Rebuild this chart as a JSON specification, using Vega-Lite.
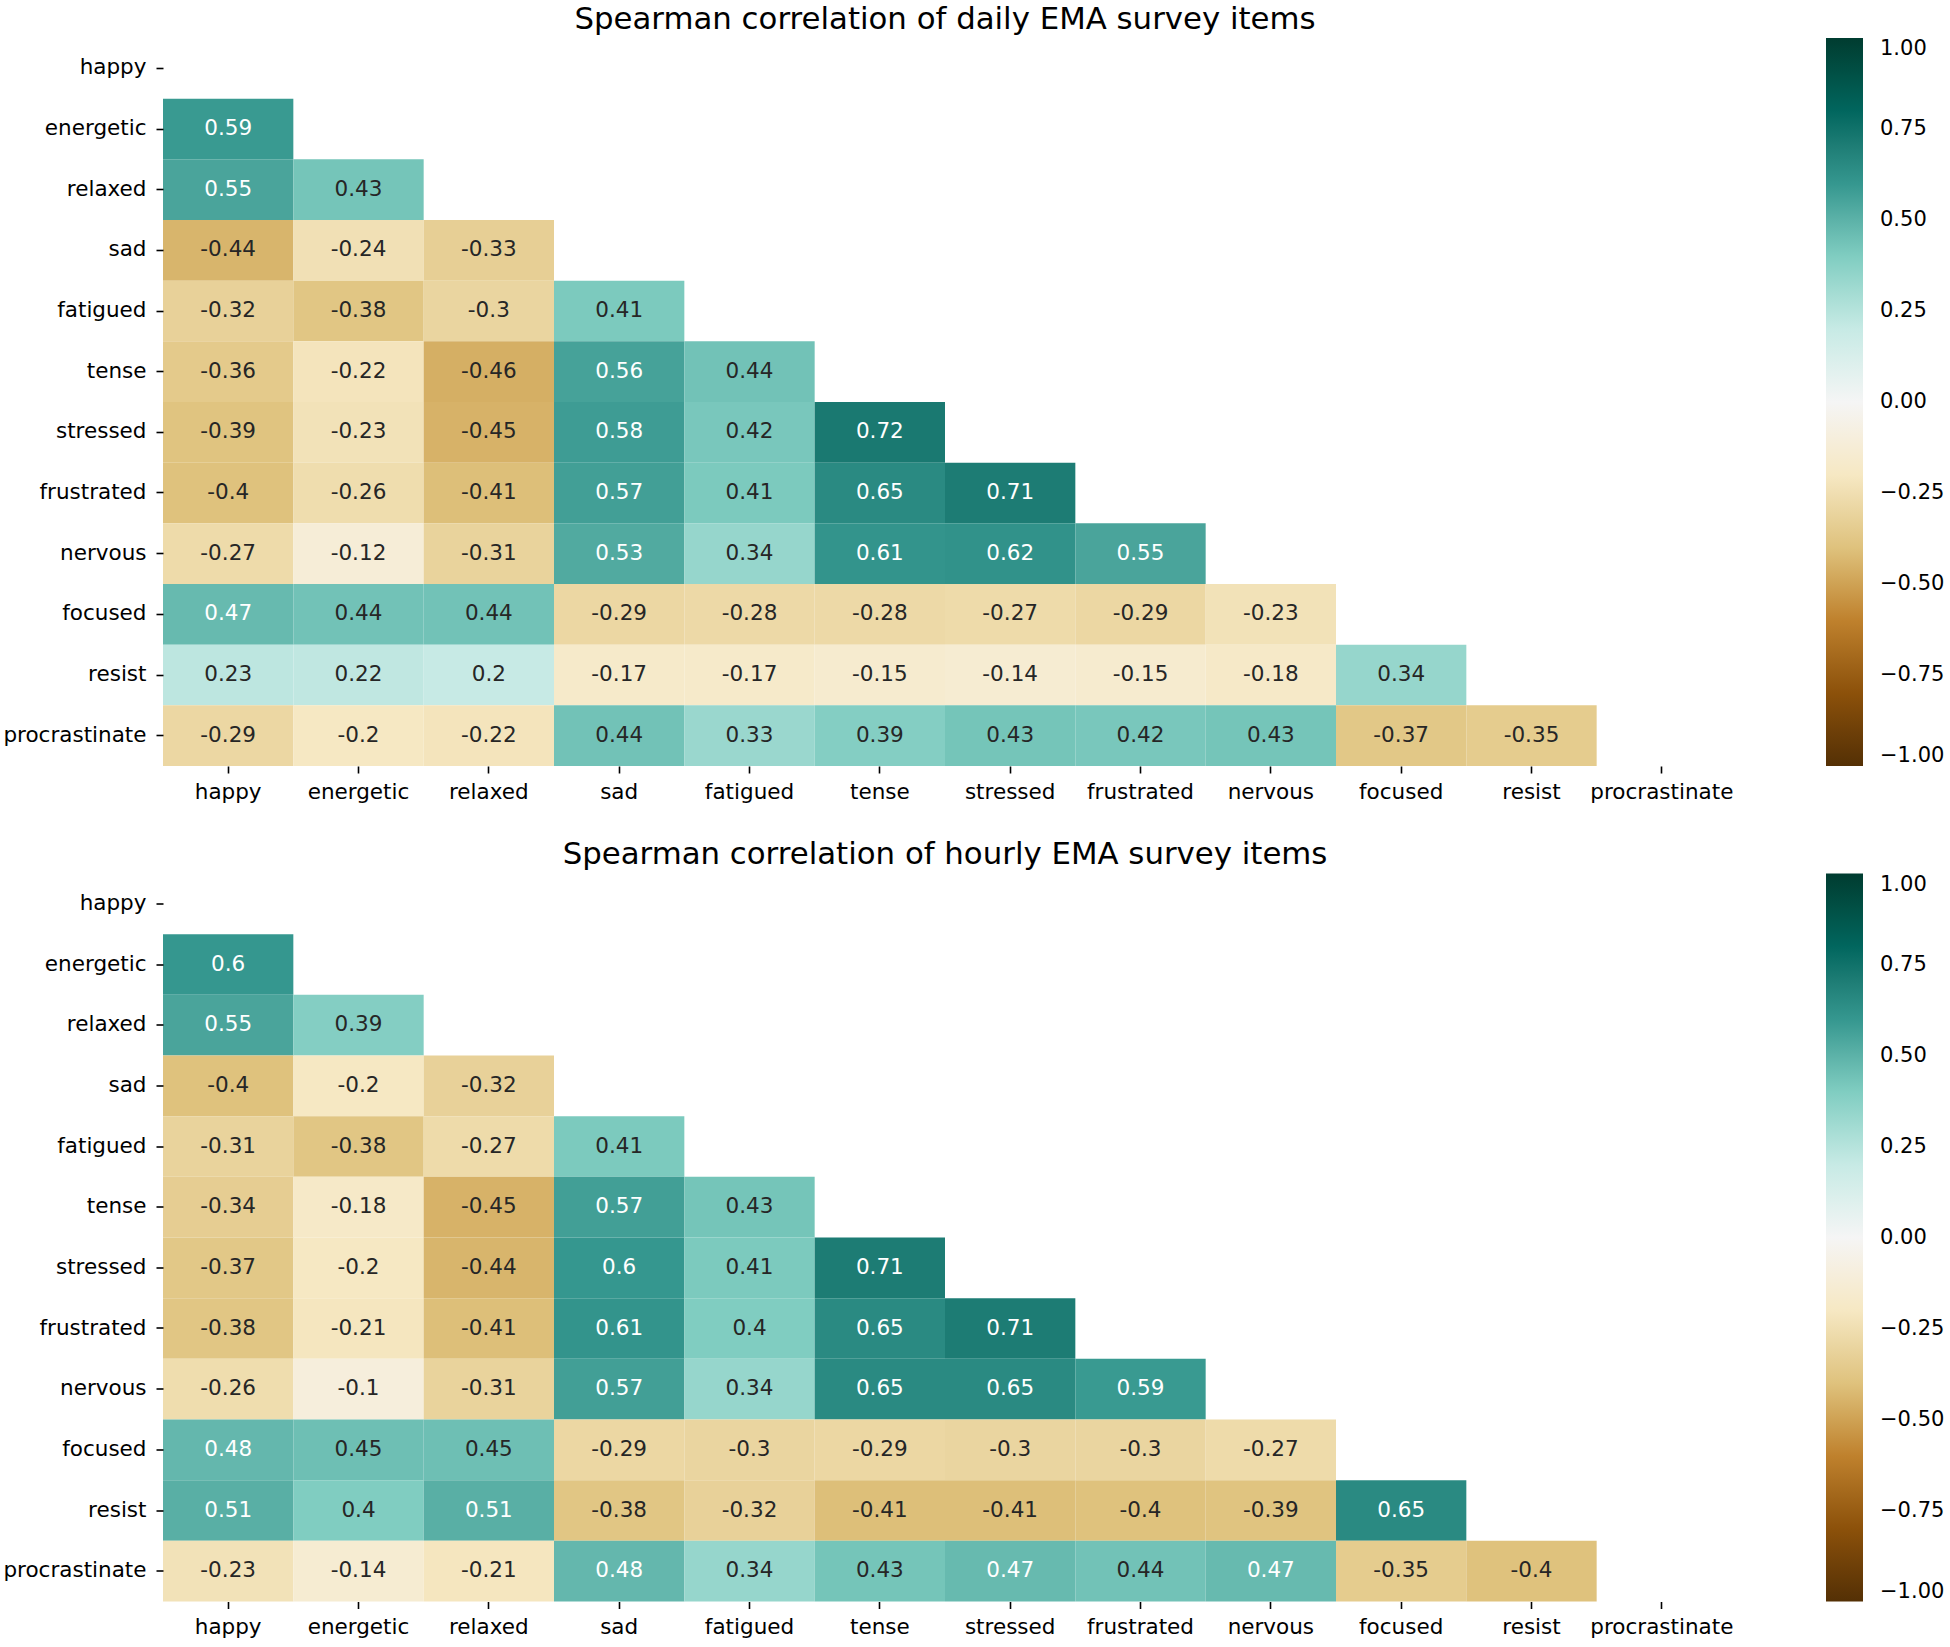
{
  "$schema": "https://vega.github.io/schema/vega-lite/v6.json",
  "padding": {"left": 2, "top": 3, "right": 0, "bottom": 0},
  "config": {
    "font": "DejaVu Sans",
    "view": {"stroke": null},
    "axis": {"labelFont": "DejaVu Sans", "labelFontSize": 21.5, "labelColor": "#000000", "tickColor": "#000000", "tickSize": 7, "tickWidth": 1.6, "domain": false, "grid": false, "title": null, "labelPadding": 10},
    "legend": {"labelFont": "DejaVu Sans", "labelFontSize": 21, "labelColor": "#000000"},
    "title": {"font": "DejaVu Sans", "fontSize": 30.8, "fontWeight": "normal", "color": "#000000", "anchor": "middle", "offset": 2.5}
  },
  "datasets": {
    "daily": [
      {"row": "energetic", "col": "happy", "value": 0.59},
      {"row": "relaxed", "col": "happy", "value": 0.55},
      {"row": "relaxed", "col": "energetic", "value": 0.43},
      {"row": "sad", "col": "happy", "value": -0.44},
      {"row": "sad", "col": "energetic", "value": -0.24},
      {"row": "sad", "col": "relaxed", "value": -0.33},
      {"row": "fatigued", "col": "happy", "value": -0.32},
      {"row": "fatigued", "col": "energetic", "value": -0.38},
      {"row": "fatigued", "col": "relaxed", "value": -0.3},
      {"row": "fatigued", "col": "sad", "value": 0.41},
      {"row": "tense", "col": "happy", "value": -0.36},
      {"row": "tense", "col": "energetic", "value": -0.22},
      {"row": "tense", "col": "relaxed", "value": -0.46},
      {"row": "tense", "col": "sad", "value": 0.56},
      {"row": "tense", "col": "fatigued", "value": 0.44},
      {"row": "stressed", "col": "happy", "value": -0.39},
      {"row": "stressed", "col": "energetic", "value": -0.23},
      {"row": "stressed", "col": "relaxed", "value": -0.45},
      {"row": "stressed", "col": "sad", "value": 0.58},
      {"row": "stressed", "col": "fatigued", "value": 0.42},
      {"row": "stressed", "col": "tense", "value": 0.72},
      {"row": "frustrated", "col": "happy", "value": -0.4},
      {"row": "frustrated", "col": "energetic", "value": -0.26},
      {"row": "frustrated", "col": "relaxed", "value": -0.41},
      {"row": "frustrated", "col": "sad", "value": 0.57},
      {"row": "frustrated", "col": "fatigued", "value": 0.41},
      {"row": "frustrated", "col": "tense", "value": 0.65},
      {"row": "frustrated", "col": "stressed", "value": 0.71},
      {"row": "nervous", "col": "happy", "value": -0.27},
      {"row": "nervous", "col": "energetic", "value": -0.12},
      {"row": "nervous", "col": "relaxed", "value": -0.31},
      {"row": "nervous", "col": "sad", "value": 0.53},
      {"row": "nervous", "col": "fatigued", "value": 0.34},
      {"row": "nervous", "col": "tense", "value": 0.61},
      {"row": "nervous", "col": "stressed", "value": 0.62},
      {"row": "nervous", "col": "frustrated", "value": 0.55},
      {"row": "focused", "col": "happy", "value": 0.47},
      {"row": "focused", "col": "energetic", "value": 0.44},
      {"row": "focused", "col": "relaxed", "value": 0.44},
      {"row": "focused", "col": "sad", "value": -0.29},
      {"row": "focused", "col": "fatigued", "value": -0.28},
      {"row": "focused", "col": "tense", "value": -0.28},
      {"row": "focused", "col": "stressed", "value": -0.27},
      {"row": "focused", "col": "frustrated", "value": -0.29},
      {"row": "focused", "col": "nervous", "value": -0.23},
      {"row": "resist", "col": "happy", "value": 0.23},
      {"row": "resist", "col": "energetic", "value": 0.22},
      {"row": "resist", "col": "relaxed", "value": 0.2},
      {"row": "resist", "col": "sad", "value": -0.17},
      {"row": "resist", "col": "fatigued", "value": -0.17},
      {"row": "resist", "col": "tense", "value": -0.15},
      {"row": "resist", "col": "stressed", "value": -0.14},
      {"row": "resist", "col": "frustrated", "value": -0.15},
      {"row": "resist", "col": "nervous", "value": -0.18},
      {"row": "resist", "col": "focused", "value": 0.34},
      {"row": "procrastinate", "col": "happy", "value": -0.29},
      {"row": "procrastinate", "col": "energetic", "value": -0.2},
      {"row": "procrastinate", "col": "relaxed", "value": -0.22},
      {"row": "procrastinate", "col": "sad", "value": 0.44},
      {"row": "procrastinate", "col": "fatigued", "value": 0.33},
      {"row": "procrastinate", "col": "tense", "value": 0.39},
      {"row": "procrastinate", "col": "stressed", "value": 0.43},
      {"row": "procrastinate", "col": "frustrated", "value": 0.42},
      {"row": "procrastinate", "col": "nervous", "value": 0.43},
      {"row": "procrastinate", "col": "focused", "value": -0.37},
      {"row": "procrastinate", "col": "resist", "value": -0.35}
    ],
    "hourly": [
      {"row": "energetic", "col": "happy", "value": 0.6},
      {"row": "relaxed", "col": "happy", "value": 0.55},
      {"row": "relaxed", "col": "energetic", "value": 0.39},
      {"row": "sad", "col": "happy", "value": -0.4},
      {"row": "sad", "col": "energetic", "value": -0.2},
      {"row": "sad", "col": "relaxed", "value": -0.32},
      {"row": "fatigued", "col": "happy", "value": -0.31},
      {"row": "fatigued", "col": "energetic", "value": -0.38},
      {"row": "fatigued", "col": "relaxed", "value": -0.27},
      {"row": "fatigued", "col": "sad", "value": 0.41},
      {"row": "tense", "col": "happy", "value": -0.34},
      {"row": "tense", "col": "energetic", "value": -0.18},
      {"row": "tense", "col": "relaxed", "value": -0.45},
      {"row": "tense", "col": "sad", "value": 0.57},
      {"row": "tense", "col": "fatigued", "value": 0.43},
      {"row": "stressed", "col": "happy", "value": -0.37},
      {"row": "stressed", "col": "energetic", "value": -0.2},
      {"row": "stressed", "col": "relaxed", "value": -0.44},
      {"row": "stressed", "col": "sad", "value": 0.6},
      {"row": "stressed", "col": "fatigued", "value": 0.41},
      {"row": "stressed", "col": "tense", "value": 0.71},
      {"row": "frustrated", "col": "happy", "value": -0.38},
      {"row": "frustrated", "col": "energetic", "value": -0.21},
      {"row": "frustrated", "col": "relaxed", "value": -0.41},
      {"row": "frustrated", "col": "sad", "value": 0.61},
      {"row": "frustrated", "col": "fatigued", "value": 0.4},
      {"row": "frustrated", "col": "tense", "value": 0.65},
      {"row": "frustrated", "col": "stressed", "value": 0.71},
      {"row": "nervous", "col": "happy", "value": -0.26},
      {"row": "nervous", "col": "energetic", "value": -0.1},
      {"row": "nervous", "col": "relaxed", "value": -0.31},
      {"row": "nervous", "col": "sad", "value": 0.57},
      {"row": "nervous", "col": "fatigued", "value": 0.34},
      {"row": "nervous", "col": "tense", "value": 0.65},
      {"row": "nervous", "col": "stressed", "value": 0.65},
      {"row": "nervous", "col": "frustrated", "value": 0.59},
      {"row": "focused", "col": "happy", "value": 0.48},
      {"row": "focused", "col": "energetic", "value": 0.45},
      {"row": "focused", "col": "relaxed", "value": 0.45},
      {"row": "focused", "col": "sad", "value": -0.29},
      {"row": "focused", "col": "fatigued", "value": -0.3},
      {"row": "focused", "col": "tense", "value": -0.29},
      {"row": "focused", "col": "stressed", "value": -0.3},
      {"row": "focused", "col": "frustrated", "value": -0.3},
      {"row": "focused", "col": "nervous", "value": -0.27},
      {"row": "resist", "col": "happy", "value": 0.51},
      {"row": "resist", "col": "energetic", "value": 0.4},
      {"row": "resist", "col": "relaxed", "value": 0.51},
      {"row": "resist", "col": "sad", "value": -0.38},
      {"row": "resist", "col": "fatigued", "value": -0.32},
      {"row": "resist", "col": "tense", "value": -0.41},
      {"row": "resist", "col": "stressed", "value": -0.41},
      {"row": "resist", "col": "frustrated", "value": -0.4},
      {"row": "resist", "col": "nervous", "value": -0.39},
      {"row": "resist", "col": "focused", "value": 0.65},
      {"row": "procrastinate", "col": "happy", "value": -0.23},
      {"row": "procrastinate", "col": "energetic", "value": -0.14},
      {"row": "procrastinate", "col": "relaxed", "value": -0.21},
      {"row": "procrastinate", "col": "sad", "value": 0.48},
      {"row": "procrastinate", "col": "fatigued", "value": 0.34},
      {"row": "procrastinate", "col": "tense", "value": 0.43},
      {"row": "procrastinate", "col": "stressed", "value": 0.47},
      {"row": "procrastinate", "col": "frustrated", "value": 0.44},
      {"row": "procrastinate", "col": "nervous", "value": 0.47},
      {"row": "procrastinate", "col": "focused", "value": -0.35},
      {"row": "procrastinate", "col": "resist", "value": -0.4}
    ]
  },
  "resolve": {"scale": {"color": "independent"}, "legend": {"color": "independent"}},
  "spacing": 35.5,
  "vconcat": [
    {
      "title": {"text": "Spearman correlation of daily EMA survey items"},
      "width": 1564,
      "height": 728,
      "data": {"name": "daily"},
      "encoding": {
        "x": {"field": "col", "type": "nominal", "sort": null, "scale": {"domain": ["happy","energetic","relaxed","sad","fatigued","tense","stressed","frustrated","nervous","focused","resist","procrastinate"], "paddingInner": 0, "paddingOuter": 0}, "axis": {"labelAngle": 0, "labelPadding": 8}},
        "y": {"field": "row", "type": "nominal", "sort": null, "scale": {"domain": ["happy","energetic","relaxed","sad","fatigued","tense","stressed","frustrated","nervous","focused","resist","procrastinate"], "paddingInner": 0, "paddingOuter": 0}}
      },
      "layer": [
        {
          "mark": {"type": "rect", "strokeWidth": 0},
          "encoding": {
            "color": {"field": "value", "type": "quantitative",
              "scale": {"type": "linear", "domain": [-1,-0.8,-0.6,-0.4,-0.2,0,0.2,0.4,0.6,0.8,1], "range": ["#543005","#8c510a","#bf812d","#dfc27d","#f6e8c3","#f5f5f5","#c7eae5","#80cdc1","#35978f","#01665e","#003c30"]},
              "legend": {"title": null, "type": "gradient", "direction": "vertical", "gradientLength": 728, "gradientThickness": 37, "gradientStrokeWidth": 0, "values": [-1,-0.75,-0.5,-0.25,0,0.25,0.5,0.75,1], "format": ".2f", "offset": 99, "labelOffset": 17, "labelOverlap": false}}
          }
        },
        {
          "mark": {"type": "text", "fontSize": 21.5, "font": "DejaVu Sans"},
          "encoding": {
            "text": {"field": "value", "type": "nominal"},
            "color": {"condition": {"test": "datum.value >= 0.46", "value": "#ffffff"}, "value": "#262626"}
          }
        }
      ]
    },
    {
      "title": {"text": "Spearman correlation of hourly EMA survey items"},
      "width": 1564,
      "height": 728,
      "data": {"name": "hourly"},
      "encoding": {
        "x": {"field": "col", "type": "nominal", "sort": null, "scale": {"domain": ["happy","energetic","relaxed","sad","fatigued","tense","stressed","frustrated","nervous","focused","resist","procrastinate"], "paddingInner": 0, "paddingOuter": 0}, "axis": {"labelAngle": 0, "labelPadding": 8}},
        "y": {"field": "row", "type": "nominal", "sort": null, "scale": {"domain": ["happy","energetic","relaxed","sad","fatigued","tense","stressed","frustrated","nervous","focused","resist","procrastinate"], "paddingInner": 0, "paddingOuter": 0}}
      },
      "layer": [
        {
          "mark": {"type": "rect", "strokeWidth": 0},
          "encoding": {
            "color": {"field": "value", "type": "quantitative",
              "scale": {"type": "linear", "domain": [-1,-0.8,-0.6,-0.4,-0.2,0,0.2,0.4,0.6,0.8,1], "range": ["#543005","#8c510a","#bf812d","#dfc27d","#f6e8c3","#f5f5f5","#c7eae5","#80cdc1","#35978f","#01665e","#003c30"]},
              "legend": {"title": null, "type": "gradient", "direction": "vertical", "gradientLength": 728, "gradientThickness": 37, "gradientStrokeWidth": 0, "values": [-1,-0.75,-0.5,-0.25,0,0.25,0.5,0.75,1], "format": ".2f", "offset": 99, "labelOffset": 17, "labelOverlap": false}}
          }
        },
        {
          "mark": {"type": "text", "fontSize": 21.5, "font": "DejaVu Sans"},
          "encoding": {
            "text": {"field": "value", "type": "nominal"},
            "color": {"condition": {"test": "datum.value >= 0.46", "value": "#ffffff"}, "value": "#262626"}
          }
        }
      ]
    }
  ]
}
